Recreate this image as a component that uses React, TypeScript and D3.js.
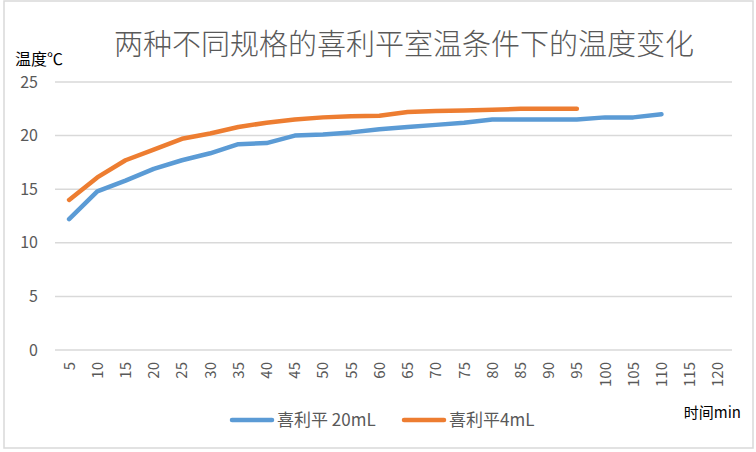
import React from "react";
import * as d3 from "d3";

const categories = [5, 10, 15, 20, 25, 30, 35, 40, 45, 50, 55, 60, 65, 70, 75, 80, 85, 90, 95, 100, 105, 110, 115, 120];
const series20mL = [12.2, 14.8, 15.8, 16.9, 17.7, 18.35, 19.2, 19.3, 20.0, 20.1, 20.3, 20.6, 20.8, 21.0, 21.2, 21.5, 21.5, 21.5, 21.5, 21.7, 21.7, 22.0];
const series4mL = [14.0, 16.1, 17.7, 18.7, 19.7, 20.2, 20.8, 21.2, 21.5, 21.7, 21.8, 21.85, 22.2, 22.3, 22.35, 22.4, 22.5, 22.5, 22.5];
const yTicks = [0, 5, 10, 15, 20, 25];
const seriesNames = ["喜利平 20mL", "喜利平4mL"];
const title = "两种不同规格的喜利平室温条件下的温度变化";

const W = 756, H = 452;
const left = 55, right = 732, top = 82, bottom = 350;
const font = "'Microsoft YaHei', 'Noto Sans CJK SC', sans-serif";
const blue = "#5b9bd5", orange = "#ed7d31";

export default function App() {
  const x = d3.scaleBand<number>().domain(categories).range([left, right]);
  const y = d3.scaleLinear().domain([0, 25]).range([bottom, top]);
  const cx = (c: number) => (x(c) as number) + x.bandwidth() / 2;
  const line = d3.line<number>().x((_, i) => cx(categories[i])).y((d) => y(d));
  return (
    <svg width={W} height={H} style={{ position: "absolute", left: 0, top: 0 }} fontFamily={font}>
      <rect x={0} y={0} width={W} height={H} fill="#fff" />
      <rect x={4} y={1} width={749} height={447} fill="none" stroke="#d9d9d9" strokeWidth={1.5} />
      <text x={404} y={55} textAnchor="middle" fontSize={29} fontWeight={300} fill="#595959">{title}</text>
      <text x={15} y={65} fontSize={16} fill="#000">温度℃</text>
      {yTicks.map((t) => (
        <g key={t}>
          <line x1={left} x2={right} y1={y(t)} y2={y(t)} stroke="#d9d9d9" strokeWidth={1.5} />
          <text x={38} y={y(t)} dy="0.35em" textAnchor="end" fontSize={16} fill="#595959">{t}</text>
        </g>
      ))}
      {categories.map((c) => (
        <text key={c} transform={`translate(${cx(c) + 5.5},362) rotate(-90)`} textAnchor="end" fontSize={15} fill="#595959">{c}</text>
      ))}
      <path d={line(series20mL) || ""} fill="none" stroke={blue} strokeWidth={4.5} strokeLinecap="round" strokeLinejoin="round" />
      <path d={line(series4mL) || ""} fill="none" stroke={orange} strokeWidth={4.5} strokeLinecap="round" strokeLinejoin="round" />
      <line x1={232} x2={272} y1={420} y2={420} stroke={blue} strokeWidth={4.5} strokeLinecap="round" />
      <text x={277} y={420} dy="0.35em" fontSize={17} fill="#595959">{seriesNames[0]}</text>
      <line x1={404} x2={444} y1={420} y2={420} stroke={orange} strokeWidth={4.5} strokeLinecap="round" />
      <text x={449} y={420} dy="0.35em" fontSize={17} fill="#595959">{seriesNames[1]}</text>
      <text x={741} y={418} textAnchor="end" fontSize={15} fill="#000">时间min</text>
    </svg>
  );
}
